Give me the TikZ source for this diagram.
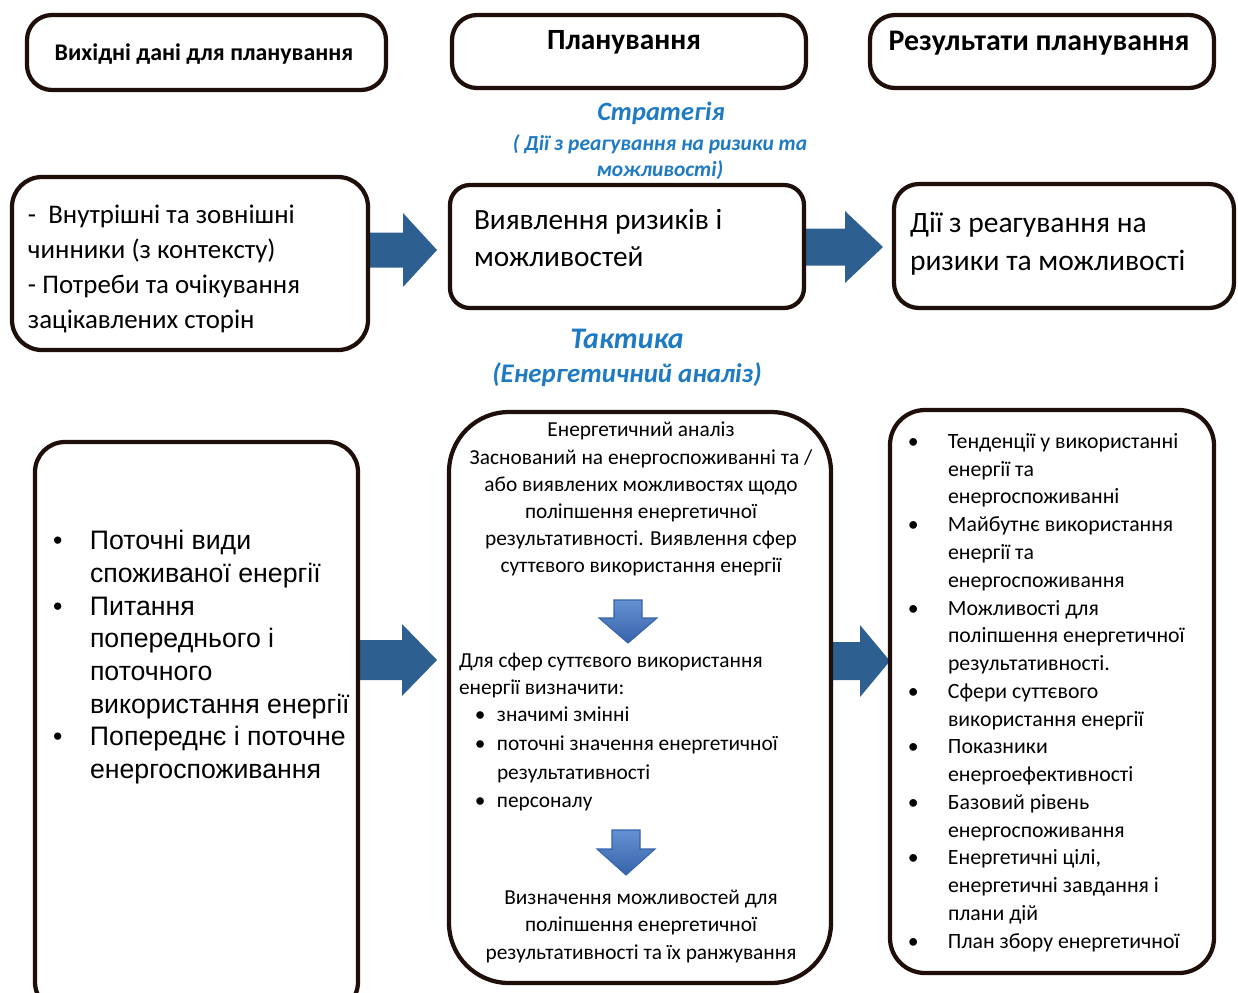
\documentclass[tikz,border=0pt]{standalone}
\usepackage{fontspec}
\setmainfont{Carlito}
\newfontfamily\arialf{Liberation Sans}
\usetikzlibrary{calc,fit}
\definecolor{boxline}{RGB}{30,15,10}
\definecolor{arrowblue}{RGB}{46,95,145}
\definecolor{txtblue}{RGB}{31,122,196}
\definecolor{dtop}{RGB}{100,145,210}
\definecolor{dbot}{RGB}{55,100,170}
\pgfdeclarelayer{background}
\pgfsetlayers{background,main}
\newcommand\fs[2]{\fontsize{#1}{#2}\selectfont}
\newcommand\blockarrow[5]{%
 \fill[arrowblue] ($(#1.center|-#2)+(0,-#4)$) -- ($(#2)+(-#3,-#4)$) -- ($(#2)+(-#3,-#5)$) -- (#2) -- ($(#2)+(-#3,#5)$) -- ($(#2)+(-#3,#4)$) -- ($(#1.center|-#2)+(0,#4)$) -- cycle;}
\begin{document}
\begin{tikzpicture}[x=0.02cm,y=-0.02cm,
 box/.style={draw=boxline,line width=0.085cm,fill=white,inner sep=0pt},
 txt/.style={inner sep=0pt,outer sep=0pt},
 bluetxt/.style={txt,text=txtblue,font=\bfseries\itshape},
 downarr/.style={top color=dtop,bottom color=dbot,draw=dbot,line width=0.6pt}]
\useasboundingbox (0,0) rectangle (1238,992);
\clip (0,0) rectangle (1238,992);
% boxes
\node[box,rounded corners=0.5cm,fit={(27,15)(386,90)}] (A) {};
\node[box,rounded corners=0.5cm,fit={(452,15)(806,88)}] (B) {};
\node[box,rounded corners=0.5cm,fit={(870,15)(1214,88)}] (C) {};
\node[box,rounded corners=0.6cm,fit={(12,177)(368,350)}] (D) {};
\node[box,rounded corners=0.4cm,fit={(450,185)(804,308)}] (E) {};
\node[box,rounded corners=0.5cm,fit={(894,184)(1234,308)}] (F) {};
\node[box,rounded corners=0.6cm,fit={(35,442)(358,1012)}] (G) {};
\node[box,rounded corners=1.2cm,fit={(449,412)(831,983)}] (H) {};
\node[box,rounded corners=0.7cm,fit={(890,410)(1214,973)}] (I) {};
% connectors
\begin{pgfonlayer}{background}
\coordinate (t1) at (437,250);
\coordinate (t2) at (883,247);
\coordinate (t3) at (437,660);
\coordinate (t4) at (890,661);
\blockarrow{D}{t1}{34}{17.5}{37}
\blockarrow{E}{t2}{38}{18.5}{36}
\blockarrow{G}{t3}{35}{20}{36}
\blockarrow{H}{t4}{30}{19}{36}
\end{pgfonlayer}
% headers
\node[txt,font=\bfseries\fs{13.6}{16}] (At) at (204,54) {Вихідні дані для планування};
\node[txt,font=\bfseries\fs{16.7}{20}] (Bt) at (624,42) {Планування};
\node[txt,font=\bfseries\fs{17}{20}] (Ct) at (1039,43) {Результати планування};
% strategy
\node[bluetxt,font=\bfseries\itshape\fs{15}{18}] (S1) at (661,113) {Стратегія};
\node[bluetxt,font=\bfseries\itshape\fs{12.2}{14.7},align=center,anchor=north] (S2) at (660,132.8) {\strut( Дії з реагування на ризики та\\можливості)};
% middle row
\node[txt,anchor=north west,align=left,font=\fs{15.3}{19.8}] (Dt) at (28,199.5) {\strut-~~Внутрішні та зовнішні\\чинники (з контексту)\\- Потреби та очікування\\зацікавлених сторін};
\node[txt,anchor=north west,align=left,font=\fs{16.7}{21}] (Et) at (474,203.9) {\strut Виявлення ризиків і\\можливостей};
\node[txt,anchor=north west,align=left,font=\fs{16.8}{21.5}] (Ft) at (910,206.2) {\strut Дії з реагування на\\ризики та можливості};
% tactic
\node[bluetxt,font=\bfseries\itshape\fs{17}{20},anchor=base] (T1) at (627,348) {Тактика};
\node[bluetxt,font=\bfseries\itshape\fs{15.3}{19},anchor=base] (T2) at (627,382) {(Енергетичний аналіз)};
% bottom left
\node[txt,anchor=north west,align=left,font=\arialf\fs{15.2}{18.6}] (Gt) at (90,527) {\strut\llap{•\hspace{15.6pt}}Поточні види\\споживаної енергії\\\llap{•\hspace{15.6pt}}Питання\\попереднього і\\поточного\\використання енергії\\\llap{•\hspace{15.6pt}}Попереднє і поточне\\енергоспоживання};
% bottom centre
\node[txt,anchor=north,align=center,font=\fs{12.15}{15.4}] (Ht1) at (641,418) {\strut Енергетичний аналіз\\Заснований на енергоспоживанні та /\\або виявлених можливостях щодо\\поліпшення енергетичної\\результативності. Виявлення сфер\\суттєвого використання енергії};
\node[txt,anchor=north west,align=left,font=\fs{12.15}{15.3}] (Ht2) at (459,649) {\strut Для сфер суттєвого використання\\енергії визначити:};
\node[txt,anchor=north west,align=left,font=\fs{12.15}{16.3}] (Ht3) at (497,701.8) {\strut\llap{•\hspace{6.5pt}}значимі змінні\\\llap{•\hspace{6.5pt}}поточні значення енергетичної\\результативності\\\llap{•\hspace{6.5pt}}персоналу};
\node[txt,anchor=north,align=center,font=\fs{12.15}{15.6}] (Ht4) at (641,885) {\strut Визначення можливостей для\\поліпшення енергетичної\\результативності та їх ранжування};
\shade[downarr] (614,600) -- (642,600) -- (642,618) -- (657,618) -- (628,643) -- (599,618) -- (614,618) -- cycle;
\shade[downarr] (612,830) -- (640,830) -- (640,849) -- (655,849) -- (626,875) -- (597,849) -- (612,849) -- cycle;
% bottom right
\node[txt,anchor=north west,align=left,font=\fs{12.4}{15.8}] (It) at (948,429) {\strut\llap{•\hspace{16.7pt}}Тенденції у використанні\\енергії та\\енергоспоживанні\\\llap{•\hspace{16.7pt}}Майбутнє використання\\енергії та\\енергоспоживання\\\llap{•\hspace{16.7pt}}Можливості для\\поліпшення енергетичної\\результативності.\\\llap{•\hspace{16.7pt}}Сфери суттєвого\\використання енергії\\\llap{•\hspace{16.7pt}}Показники\\енергоефективності\\\llap{•\hspace{16.7pt}}Базовий рівень\\енергоспоживання\\\llap{•\hspace{16.7pt}}Енергетичні цілі,\\енергетичні завдання і\\плани дій\\\llap{•\hspace{16.7pt}}План збору енергетичної};
\end{tikzpicture}
\end{document}
